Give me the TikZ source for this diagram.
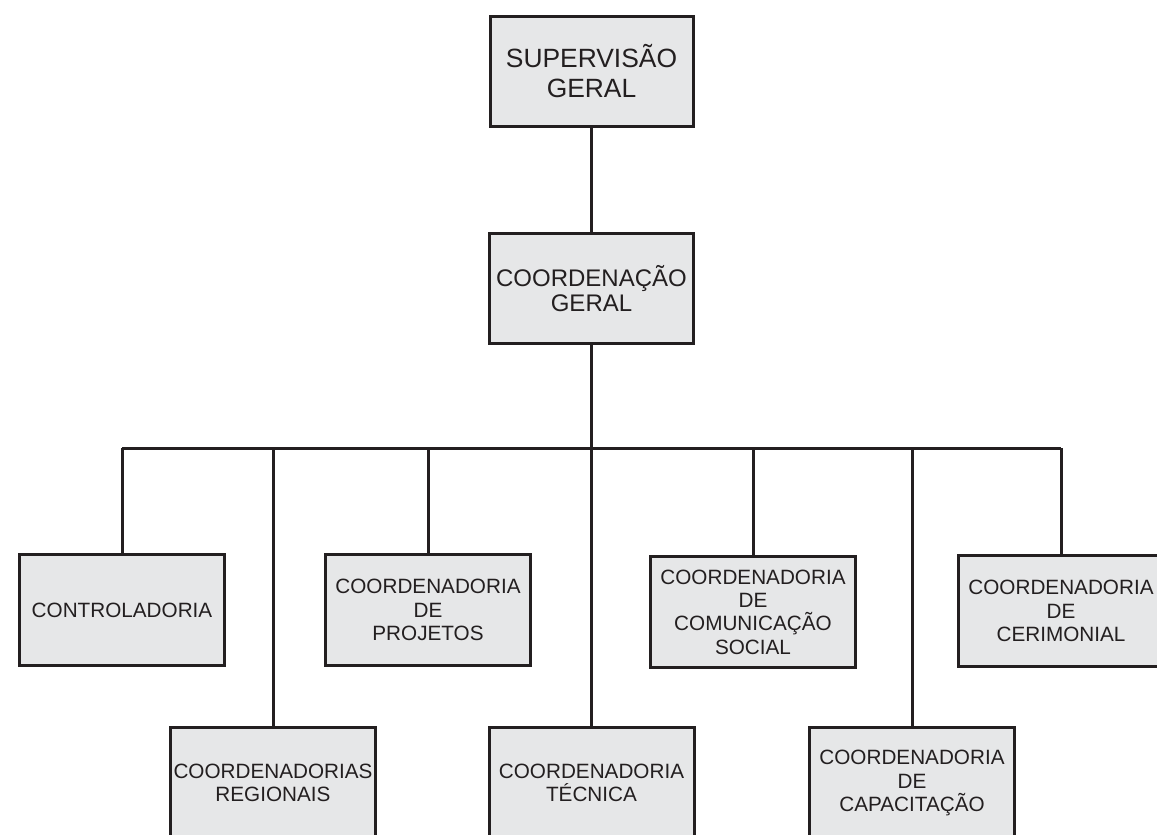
\documentclass[tikz,border=0pt]{standalone}
\usepackage{fontspec}
\setmainfont{Liberation Sans}
\definecolor{boxfill}{HTML}{E6E7E8}
\definecolor{ink}{HTML}{231F20}
\begin{document}
\begin{tikzpicture}[x=1pt,y=-1pt,
  orgbox/.style={draw=ink,fill=boxfill,line width=3pt,rectangle,
    minimum width=205pt,minimum height=111pt,inner sep=0pt,align=center,
    text=ink,font=\fontsize{20.7}{23.3}\selectfont},
  link/.style={draw=ink,line width=3pt}]
\useasboundingbox (0,0) rectangle (1157,835);
\clip (0,0) rectangle (1157,835);
\fill[white] (0,0) rectangle (1157,835);
\node[orgbox,minimum width=203pt,minimum height=110pt,font=\fontsize{26.4}{30}\selectfont] (sup) at (591.5,71.5) {SUPERVISÃO\\GERAL};
\node[orgbox,minimum width=204pt,minimum height=110pt,font=\fontsize{24}{25.5}\selectfont] (coord) at (591.5,288.5) {COORDENAÇÃO\\GERAL};
\node[orgbox] (ctrl) at (122,610) {CONTROLADORIA};
\node[orgbox] (proj) at (428,610) {COORDENADORIA\\DE\\PROJETOS};
\node[orgbox] (comun) at (753,612) {COORDENADORIA\\DE\\COMUNICAÇÃO\\SOCIAL};
\node[orgbox] (cerim) at (1061,611) {COORDENADORIA\\DE\\CERIMONIAL};
\node[orgbox] (reg) at (273,783) {COORDENADORIAS\\REGIONAIS};
\node[orgbox] (tec) at (591.5,783) {COORDENADORIA\\TÉCNICA};
\node[orgbox] (cap) at (912,783) {COORDENADORIA\\DE\\CAPACITAÇÃO};
\coordinate (barL) at (122,448);
\coordinate (barR) at (1061,448);
\draw[link] (sup.south) -- (coord.north);
\draw[link] (coord.south) -- (coord.south |- barL);
\draw[link] (barL) -- (barR);
\draw[link] (ctrl.north) -- (ctrl.north |- barL);
\draw[link] (proj.north) -- (proj.north |- barL);
\draw[link] (comun.north) -- (comun.north |- barL);
\draw[link] (cerim.north) -- (cerim.north |- barL);
\draw[link] (reg.north) -- (reg.north |- barL);
\draw[link] (tec.north) -- (tec.north |- barL);
\draw[link] (cap.north) -- (cap.north |- barL);
\end{tikzpicture}
\end{document}
